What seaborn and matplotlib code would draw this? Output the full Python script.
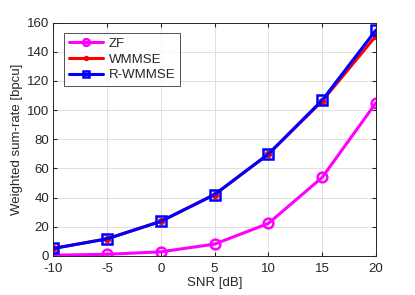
import matplotlib
matplotlib.use("Agg")
import matplotlib.pyplot as plt
import seaborn as sns
import pandas as pd

# values
snr = [-10, -5, 0, 5, 10, 15, 20]
zf = [0.4, 1.0, 2.7, 8.0, 22.2, 53.8, 105.0]
wmmse = [5.0, 11.6, 23.6, 42.0, 69.8, 106.2, 151.0]
r_wmmse = [5.0, 11.6, 23.6, 42.0, 69.8, 106.8, 155.0]

sns.set_style("white")
plt.rcParams['font.family'] = ['Liberation Sans', 'DejaVu Sans']
plt.rcParams['axes.unicode_minus'] = False
fs = 9.5
txt = '#262626'

fig = plt.figure(figsize=(4.15, 2.95), dpi=100)
ax = fig.add_axes([0.128, 0.133, 0.778, 0.79])

df = pd.DataFrame({'SNR': snr, 'ZF': zf, 'WMMSE': wmmse, 'R-WMMSE': r_wmmse})

sns.lineplot(ax=ax, data=df, x='SNR', y='ZF', color='#ff00ff', lw=2.2,
             marker='o', ms=7, mfc='none', mec='#ff00ff', mew=1.8, label='ZF')
sns.lineplot(ax=ax, data=df, x='SNR', y='WMMSE', color='#ff0000', lw=2.2,
             marker='o', ms=4.5, mfc='#ff0000', mec='#ff0000', label='WMMSE')
sns.lineplot(ax=ax, data=df, x='SNR', y='R-WMMSE', color='#0000ff', lw=2.2,
             marker='s', ms=6.5, mfc='none', mec='#0000ff', mew=1.8, label='R-WMMSE')

ax.set_xlim(-10, 20)
ax.set_ylim(0, 160)
ax.set_xticks(range(-10, 21, 5))
ax.set_yticks(range(0, 161, 20))
ax.grid(True, color='#e0e0e0', lw=0.7)
ax.set_axisbelow(True)
for s in ax.spines.values():
    s.set_color(txt)
    s.set_linewidth(0.7)
ax.tick_params(direction='in', length=3, colors=txt, labelsize=fs,
               top=True, right=True, bottom=True, left=True)
ax.tick_params(axis='x', pad=5)
ax.tick_params(axis='y', pad=3)
ax.set_xlabel('SNR [dB]', color=txt, fontsize=fs, labelpad=2)
ax.set_ylabel('Weighted sum-rate [bpcu]', color=txt, fontsize=fs, labelpad=3)

leg = ax.legend(loc='upper left', bbox_to_anchor=(0.035, 0.955), fontsize=fs,
                frameon=True, fancybox=False, edgecolor=txt, markerscale=0.7,
                handlelength=2.6, handletextpad=0.4, borderpad=0.35,
                labelspacing=0.25, borderaxespad=0)
leg.get_frame().set_linewidth(0.7)

fig.savefig('out.png', dpi=100)
